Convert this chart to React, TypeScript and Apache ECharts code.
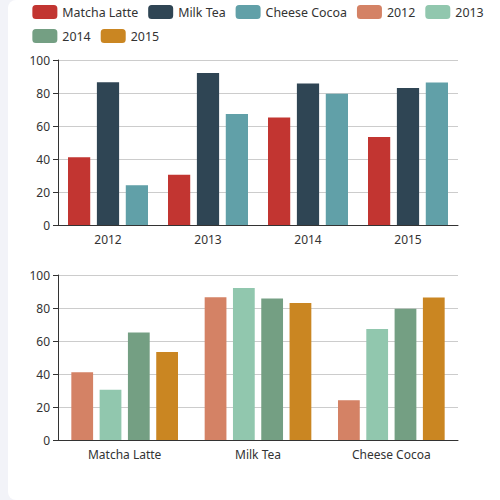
import React, { useEffect, useRef } from "react";
import * as echarts from "echarts";

const years = ["2012", "2013", "2014", "2015"];
const products = ["Matcha Latte", "Milk Tea", "Cheese Cocoa"];
const matchaLatte = [41.1, 30.4, 65.1, 53.3];
const milkTea = [86.5, 92.1, 85.7, 83.1];
const cheeseCocoa = [24.1, 67.2, 79.5, 86.4];

const palette = ["#c23531", "#2f4554", "#61a0a8", "#d48265", "#91c7ae", "#749f83", "#ca8622"];

const axisColor = "#333";

const App = () => {
  const chartRef = useRef<HTMLDivElement>(null);

  useEffect(() => {
    const chart = echarts.init(chartRef.current, null, { renderer: "svg" });
    const values = [matchaLatte, milkTea, cheeseCocoa];
    const source = [
      ["product", ...years],
      ...products.map((p, i) => [p, ...values[i]]),
    ];

    const xAxisCommon = {
      type: "category",
      axisLine: { lineStyle: { color: axisColor } },
      axisTick: { alignWithLabel: false },
      axisLabel: { color: axisColor, fontSize: 12 },
    };
    const yAxisCommon = {
      type: "value",
      min: 0,
      max: 100,
      interval: 20,
      axisLine: { show: true, lineStyle: { color: axisColor } },
      axisTick: { show: true },
      axisLabel: { color: axisColor, fontSize: 12 },
      splitLine: { lineStyle: { color: "#ccc" } },
    };
    const barCommon = { type: "bar", barGap: "30%", barCategoryGap: "20%" };

    chart.setOption({
      animation: false,
      color: palette,
      textStyle: { fontFamily: "'Noto Sans', sans-serif" },
      legend: {
        top: 0,
        itemWidth: 25,
        itemHeight: 14,
        itemGap: 10,
        textStyle: { color: "#333", fontSize: 12.4, lineHeight: 14 },
      },
      tooltip: {},
      dataset: { source },
      grid: [
        { left: "10%", right: "10%", top: 60, bottom: "55%", containLabel: false, outerBoundsMode: "none" },
        { left: "10%", right: "10%", top: "55%", bottom: 60, containLabel: false, outerBoundsMode: "none" },
      ],
      xAxis: [
        { ...xAxisCommon, gridIndex: 0 },
        { ...xAxisCommon, gridIndex: 1 },
      ],
      yAxis: [
        { ...yAxisCommon, gridIndex: 0 },
        { ...yAxisCommon, gridIndex: 1 },
      ],
      series: [
        ...products.map(() => ({ ...barCommon, seriesLayoutBy: "row" })),
        ...years.map(() => ({ ...barCommon, xAxisIndex: 1, yAxisIndex: 1 })),
      ],
    });

    return () => {
      chart.dispose();
    };
  }, []);

  return (
    <div style={{ position: "fixed", inset: 0, background: "#f2f3f8", overflow: "hidden" }}>
      <div
        style={{
          position: "absolute",
          left: 8,
          top: 0,
          width: 500,
          height: 500,
          background: "#fff",
          borderRadius: 8,
        }}
      >
        <div ref={chartRef} style={{ width: 500, height: 500 }}></div>
      </div>
    </div>
  );
};

export default App;
